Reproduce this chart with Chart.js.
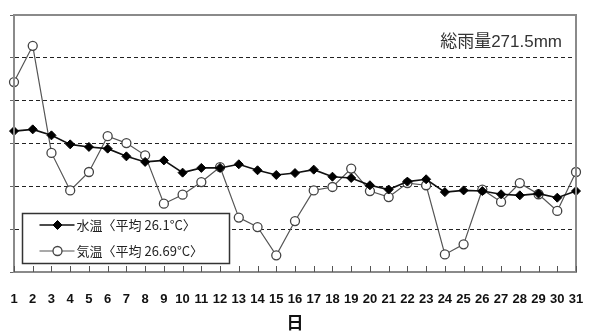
<!DOCTYPE html>
<html>
<head>
<meta charset="utf-8">
<script src="https://cdn.jsdelivr.net/npm/chart.js@4.4.1/dist/chart.umd.min.js"></script>
<style>
  html, body { margin: 0; padding: 0; background: #fff; }
  #wrap { width: 590px; height: 336px; }
</style>
</head>
<body>
<div id="wrap"><canvas id="tempChart"></canvas></div>
<script>
const days = ['1','2','3','4','5','6','7','8','9','10','11','12','13','14','15','16',
  '17','18','19','20','21','22','23','24','25','26','27','28','29','30','31'];

const waterTemp = [28.58, 28.66, 28.38, 27.96, 27.84, 27.76, 27.40, 27.14, 27.21, 26.64,
  26.86, 26.86, 27.03, 26.75, 26.53, 26.62, 26.78, 26.45, 26.39, 26.05,
  25.85, 26.22, 26.33, 25.73, 25.81, 25.78, 25.63, 25.58, 25.66, 25.47, 25.78];

const airTemp = [30.87, 32.56, 27.56, 25.81, 26.67, 28.34, 28.02, 27.45, 25.19, 25.61,
  26.20, 26.90, 24.54, 24.10, 22.78, 24.38, 25.81, 25.97, 26.83, 25.78,
  25.50, 26.15, 26.05, 22.82, 23.29, 25.85, 25.27, 26.15, 25.63, 24.85, 26.67];

const seriesNames = ['水温〈平均 26.1°C〉', '気温〈平均 26.69°C〉'];
const yMin = 22, yMax = 34, yStep = 2;
const rainText = '総雨量271.5mm';
const xTitle = '日';

// frame, inner bottom ticks, rain note and boxed legend
const decorations = {
  id: 'decorations',
  afterDraw(chart) {
    const { ctx, chartArea: a, scales } = chart;
    ctx.save();
    ctx.strokeStyle = '#8a8a8a';
    ctx.lineWidth = 2;
    ctx.strokeRect(a.left, a.top, a.right - a.left, a.bottom - a.top);

    ctx.strokeStyle = '#555';
    ctx.lineWidth = 1;
    const x = scales.x;
    for (let i = 0; i < days.length; i++) {
      const px = Math.round(x.getPixelForTick(i)) + 0.5;
      ctx.beginPath();
      ctx.moveTo(px, a.bottom);
      ctx.lineTo(px, a.bottom - 6);
      ctx.stroke();
    }

    ctx.fillStyle = '#333';
    ctx.font = '17px "Liberation Sans", "Noto Sans CJK JP"';
    ctx.textAlign = 'right';
    ctx.textBaseline = 'middle';
    ctx.fillText(rainText, a.right - 14, a.top + 27);

    // legend box
    const bx = a.left + 8.5, by = 213.5, bw = 207, bh = 50;
    ctx.fillStyle = '#fff';
    ctx.fillRect(bx, by, bw, bh);
    ctx.strokeStyle = '#333';
    ctx.lineWidth = 1.5;
    ctx.strokeRect(bx, by, bw, bh);

    const rows = [225, 251];
    chart.data.datasets.forEach((ds, i) => {
      const y = rows[i];
      const cx = bx + 35;
      ctx.strokeStyle = ds.borderColor;
      ctx.lineWidth = ds.borderWidth;
      ctx.beginPath();
      ctx.moveTo(bx + 17, y);
      ctx.lineTo(bx + 52, y);
      ctx.stroke();
      ctx.fillStyle = ds.pointBackgroundColor;
      ctx.strokeStyle = ds.pointBorderColor;
      ctx.lineWidth = ds.pointBorderWidth;
      ctx.beginPath();
      const r = ds.pointRadius;
      if (ds.pointStyle === 'circle') {
        ctx.arc(cx, y, r, 0, Math.PI * 2);
      } else {
        ctx.moveTo(cx, y - r); ctx.lineTo(cx + r, y);
        ctx.lineTo(cx, y + r); ctx.lineTo(cx - r, y);
        ctx.closePath();
      }
      ctx.fill();
      ctx.stroke();

      ctx.fillStyle = '#222';
      ctx.font = '13px "Noto Sans CJK JP"';
      ctx.textAlign = 'left';
      ctx.textBaseline = 'middle';
      ctx.fillText(ds.label, bx + 54, y);
    });
    ctx.restore();
  }
};

new Chart(document.getElementById('tempChart'), {
  type: 'line',
  data: {
    labels: days,
    datasets: [
      {
        label: seriesNames[0],
        data: waterTemp,
        borderColor: '#111',
        borderWidth: 1.6,
        pointStyle: 'rectRot',
        pointRadius: 4.5,
        pointBackgroundColor: '#000',
        pointBorderColor: '#000',
        pointBorderWidth: 1,
        tension: 0
      },
      {
        label: seriesNames[1],
        data: airTemp,
        borderColor: '#555',
        borderWidth: 1.2,
        pointStyle: 'circle',
        pointRadius: 4.5,
        pointBackgroundColor: '#fff',
        pointBorderColor: '#444',
        pointBorderWidth: 1.3,
        tension: 0
      }
    ]
  },
  plugins: [decorations],
  options: {
    responsive: true,
    maintainAspectRatio: false,
    animation: false,
    layout: { padding: { top: 15, right: 14, left: 0, bottom: 0 } },
    plugins: {
      legend: { display: false },
      tooltip: { enabled: false }
    },
    scales: {
      x: {
        offset: false,
        afterFit(scale) {
          scale.height = 64;
          scale.paddingLeft = 0;
          scale.paddingRight = 0;
        },
        grid: { display: false, drawTicks: false },
        border: { display: true, color: '#777', width: 2 },
        ticks: {
          autoSkip: false,
          maxRotation: 0,
          padding: 20,
          color: '#111',
          font: { family: '"Liberation Sans"', size: 13, weight: 'bold' }
        },
        title: {
          display: true,
          text: xTitle,
          color: '#111',
          padding: { top: 4, bottom: 3 },
          font: { family: '"Noto Sans CJK JP"', size: 17, weight: 'bold' }
        }
      },
      y: {
        min: yMin,
        max: yMax,
        afterFit(scale) { scale.width = 14; },
        ticks: { display: false, stepSize: yStep },
        grid: {
          color: c => (c.tick.value === yMin || c.tick.value === yMax) ? 'rgba(0,0,0,0)' : '#222',
          lineWidth: 1,
          tickColor: '#666',
          tickLength: 4,
          drawTicks: true
        },
        border: { display: true, color: '#777', width: 2, dash: [4, 3] }
      }
    }
  }
});
</script>
</body>
</html>
